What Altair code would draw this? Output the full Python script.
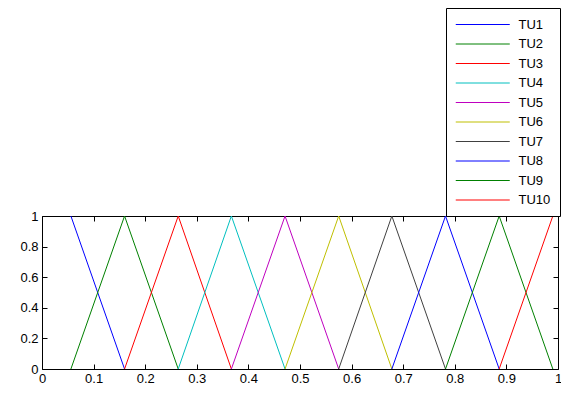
import altair as alt
import pandas as pd

names = ["TU1", "TU2", "TU3", "TU4", "TU5", "TU6", "TU7", "TU8", "TU9", "TU10"]
colors = ["#0000FF", "#008000", "#FF0000", "#00BFBF", "#BF00BF",
          "#BFBF00", "#404040", "#0000FF", "#008000", "#FF0000"]

# triangle vertices
series_x = {
    "TU1": [0.056, 0.160],
    "TU2": [0.056, 0.160, 0.264],
    "TU3": [0.160, 0.264, 0.367],
    "TU4": [0.264, 0.367, 0.471],
    "TU5": [0.367, 0.471, 0.575],
    "TU6": [0.471, 0.575, 0.678],
    "TU7": [0.575, 0.678, 0.782],
    "TU8": [0.678, 0.782, 0.886],
    "TU9": [0.782, 0.886, 0.990],
    "TU10": [0.886, 0.990],
}
series_y = {
    "TU1": [1, 0],
    "TU2": [0, 1, 0],
    "TU3": [0, 1, 0],
    "TU4": [0, 1, 0],
    "TU5": [0, 1, 0],
    "TU6": [0, 1, 0],
    "TU7": [0, 1, 0],
    "TU8": [0, 1, 0],
    "TU9": [0, 1, 0],
    "TU10": [0, 1],
}
x_ticks = [0, 0.1, 0.2, 0.3, 0.4, 0.5, 0.6, 0.7, 0.8, 0.9, 1]
y_ticks = [0, 0.2, 0.4, 0.6, 0.8, 1]

rows = []
for n in names:
    for i, (xv, yv) in enumerate(zip(series_x[n], series_y[n])):
        rows.append({"name": n, "x": xv, "y": yv, "o": i})
df = pd.DataFrame(rows)

FONT = "Liberation Sans"

def ax(orient, vals, labels=True, pad=4):
    kw = dict(orient=orient, values=vals, grid=False, domain=False,
              tickSize=5, offset=-5, tickColor="black", title=None,
              labelFlush=False, labelOverlap=False)
    if labels:
        kw.update(labels=True, format="~g", labelFont=FONT, labelFontSize=13,
                  labelColor="black", labelPadding=pad)
    else:
        kw.update(labels=False)
    return alt.Axis(**kw)

xs = alt.Scale(domain=[0, 1], nice=False, zero=False)
ys = alt.Scale(domain=[0, 1], nice=False, zero=False)

lines = alt.Chart(df).mark_line(strokeWidth=1).encode(
    x=alt.X("x:Q", scale=xs, axis=ax("bottom", x_ticks, pad=3)),
    y=alt.Y("y:Q", scale=ys, axis=ax("left", y_ticks, pad=4)),
    color=alt.Color("name:N", scale=alt.Scale(domain=names, range=colors),
                    legend=alt.Legend(title=None)),
    order="o:Q",
)

mirror = alt.Chart(df).mark_line(strokeOpacity=0).encode(
    x=alt.X("x:Q", scale=xs, axis=ax("top", x_ticks, False)),
    y=alt.Y("y:Q", scale=ys, axis=ax("right", y_ticks, False)),
    detail="name:N",
)

chart = alt.layer(lines, mirror).resolve_axis(x="independent", y="independent").properties(
    width=516, height=153,
    autosize=alt.AutoSizeParams(type="none"),
    padding={"left": 34, "top": 208, "right": 3, "bottom": 17},
    background="white",
).configure_view(stroke="black", strokeWidth=1).configure_legend(
    orient="none", legendX=404, legendY=-208,
    strokeColor="black", fillColor="white", padding=9,
    symbolType="M-1,0H7", symbolSize=182.25, symbolStrokeWidth=1,
    labelFont=FONT, labelFontSize=13, labelColor="black", labelOffset=48.5,
    rowPadding=4.5,
)

chart.save("out.html", embed_options={"renderer": "svg", "actions": False})
